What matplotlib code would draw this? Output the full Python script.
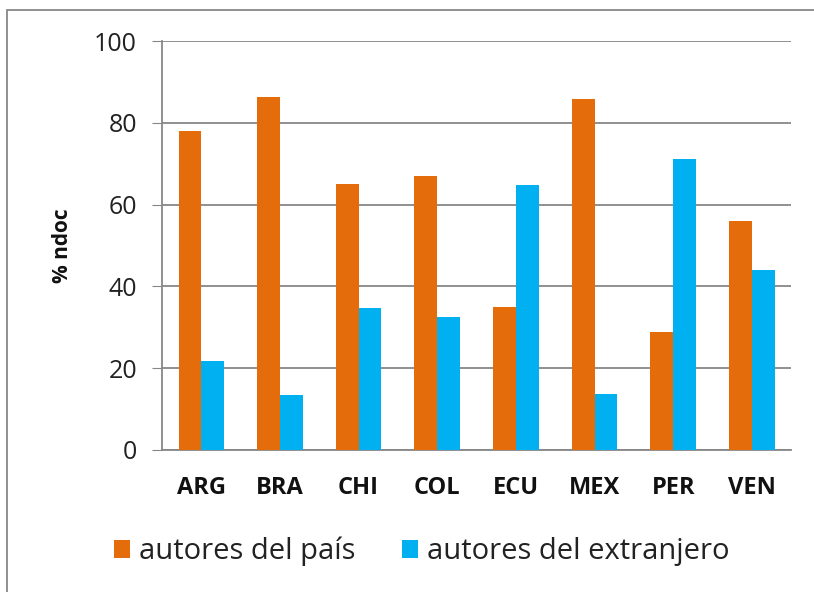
import matplotlib.pyplot as plt
import numpy as np
from matplotlib.patches import Rectangle

paises = ['ARG', 'BRA', 'CHI', 'COL', 'ECU', 'MEX', 'PER', 'VEN']
autores_pais = [77.9, 86.3, 65.0, 67.1, 35.0, 85.9, 28.8, 56.0]
autores_extranjero = [21.7, 13.4, 34.6, 32.6, 64.7, 13.8, 71.2, 44.0]
yticks = [0, 20, 40, 60, 80, 100]

naranja = '#E46C0A'
azul = '#00B0F0'
gris = '#878787'

plt.rcParams['font.family'] = ['Open Sans', 'DejaVu Sans']

fig = plt.figure(figsize=(8.14, 5.92), dpi=100)
ax = fig.add_axes([0.199, 0.2399, 0.773, 0.6908])

x = np.arange(len(paises))
w = 0.29
ax.bar(x - w / 2, autores_pais, w, color=naranja, label='autores del país', zorder=3)
ax.bar(x + w / 2, autores_extranjero, w, color=azul, label='autores del extranjero', zorder=3)

ax.set_xlim(-0.5, len(paises) - 0.5)
ax.set_ylim(0, 100)
ax.set_yticks(yticks)
ax.set_xticks(x)
ax.set_xticklabels(paises, fontsize=17, fontweight='bold', color='#111111')
ax.tick_params(axis='y', labelsize=18, length=7, color=gris, pad=11, labelcolor='#222222')
ax.tick_params(axis='x', length=0, pad=19)
ax.grid(axis='y', color=gris, linewidth=1.3, zorder=0)
for s in ['top', 'right']:
    ax.spines[s].set_visible(False)
ax.spines['left'].set_color(gris)
ax.spines['bottom'].set_color(gris)
ax.spines['left'].set_linewidth(1.3)
ax.spines['bottom'].set_linewidth(1.3)
ax.set_ylabel('% ndoc', fontsize=15, fontweight='bold', color='#111111')
ax.yaxis.set_label_coords(-0.1415, 0.50)

# borde exterior
fig.patches.append(Rectangle((7 / 814, -0.1), 1.2, 1 - 10 / 592 + 0.1, transform=fig.transFigure,
                             fill=False, edgecolor=gris, linewidth=1.3))

leg = fig.legend(loc='center', bbox_to_anchor=(0.518, 0.068), ncol=2, frameon=False,
                 fontsize=21, handlelength=0.55, handleheight=0.55, handletextpad=0.3,
                 columnspacing=1.6)
for t in leg.get_texts():
    t.set_color('#222222')

fig.savefig('out.png', dpi=100)
